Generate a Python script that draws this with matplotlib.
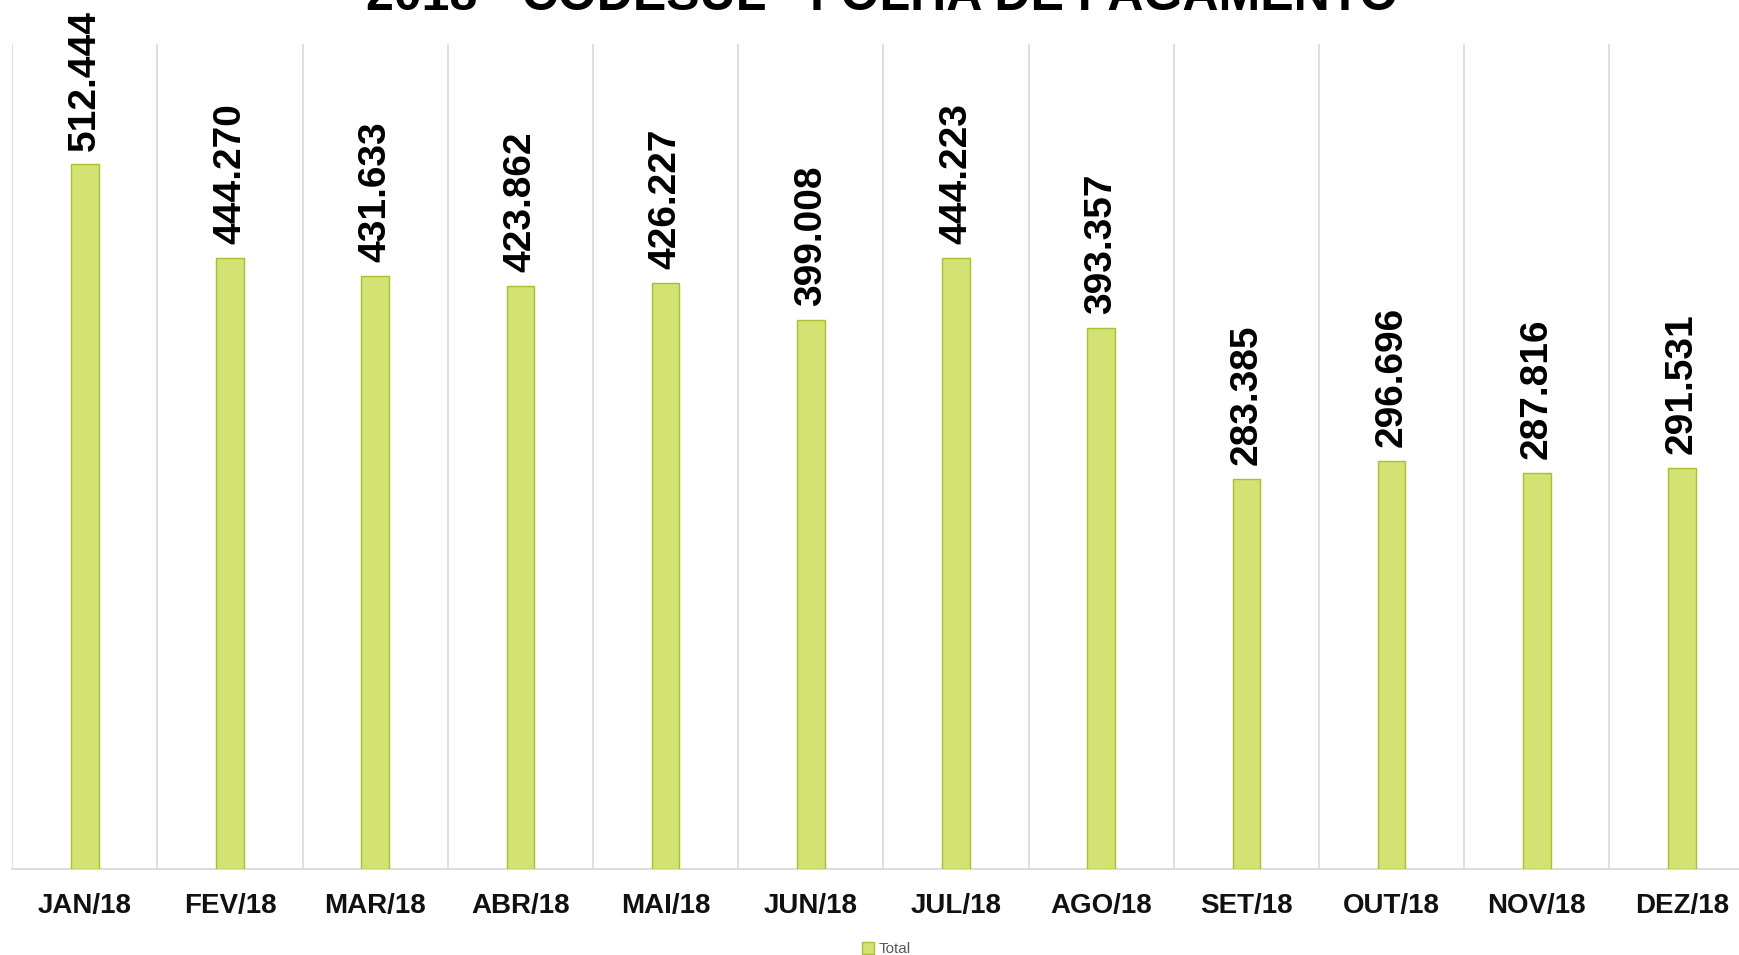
import matplotlib.pyplot as plt
import numpy as np

meses = ["JAN/18", "FEV/18", "MAR/18", "ABR/18", "MAI/18", "JUN/18",
         "JUL/18", "AGO/18", "SET/18", "OUT/18", "NOV/18", "DEZ/18"]
total = [512444, 444270, 431633, 423862, 426227, 399008,
         444223, 393357, 283385, 296696, 287816, 291531]

fig = plt.figure(figsize=(17.4, 9.55), dpi=100)
ax = fig.add_axes([12.2 / 1740, 86 / 955, 12 * 145.2 / 1740, 825 / 955])

x = np.arange(len(meses))
bars = ax.bar(x, total, width=0.19, color='#d4e274', edgecolor='#a7bf30',
              linewidth=1.0, label='Total', zorder=3)

for xi, v in zip(x, total):
    txt = f"{v:,}".replace(",", ".")
    ax.annotate(txt, (xi, v), xytext=(0, 10), textcoords='offset points',
                rotation=90, ha='center', va='bottom', fontsize=28,
                fontweight='bold', family=['Liberation Sans', 'DejaVu Sans'],
                color='#000000')

ax.set_xlim(-0.5, len(meses) - 0.5)
ax.set_ylim(0, 600000)
ax.set_xticks(x)
ax.set_xticklabels(meses, fontsize=20, fontweight='bold',
                   family=['Liberation Sans', 'DejaVu Sans'], color='#111111')
ax.set_xticks(np.arange(-0.5, len(meses), 1), minor=True)
ax.tick_params(axis='x', which='both', length=0, pad=17)
ax.set_yticks([])
ax.grid(axis='x', which='minor', color='#d9d9d9', linewidth=1.2, zorder=0)
for s in ['top', 'right', 'left']:
    ax.spines[s].set_visible(False)
ax.spines['bottom'].set_color('#d9d9d9')
ax.spines['bottom'].set_linewidth(1.3)

# titulo cortado no topo, como no original
fig.text(882 / 1740, 1 - 10 / 955, "2018 - CODESUL - FOLHA DE PAGAMENTO",
         ha='center', va='baseline', fontsize=36, fontweight='bold',
         family=['Liberation Sans', 'DejaVu Sans'])

fig.legend(loc='center', bbox_to_anchor=(886 / 1740, 1 - 949 / 955),
           frameon=False, handlelength=0.8, handleheight=0.8,
           handletextpad=0.3, labelcolor='#595959',
           prop={'family': ['Liberation Sans', 'DejaVu Sans'], 'size': 11})

fig.savefig('out.png', dpi=100)
